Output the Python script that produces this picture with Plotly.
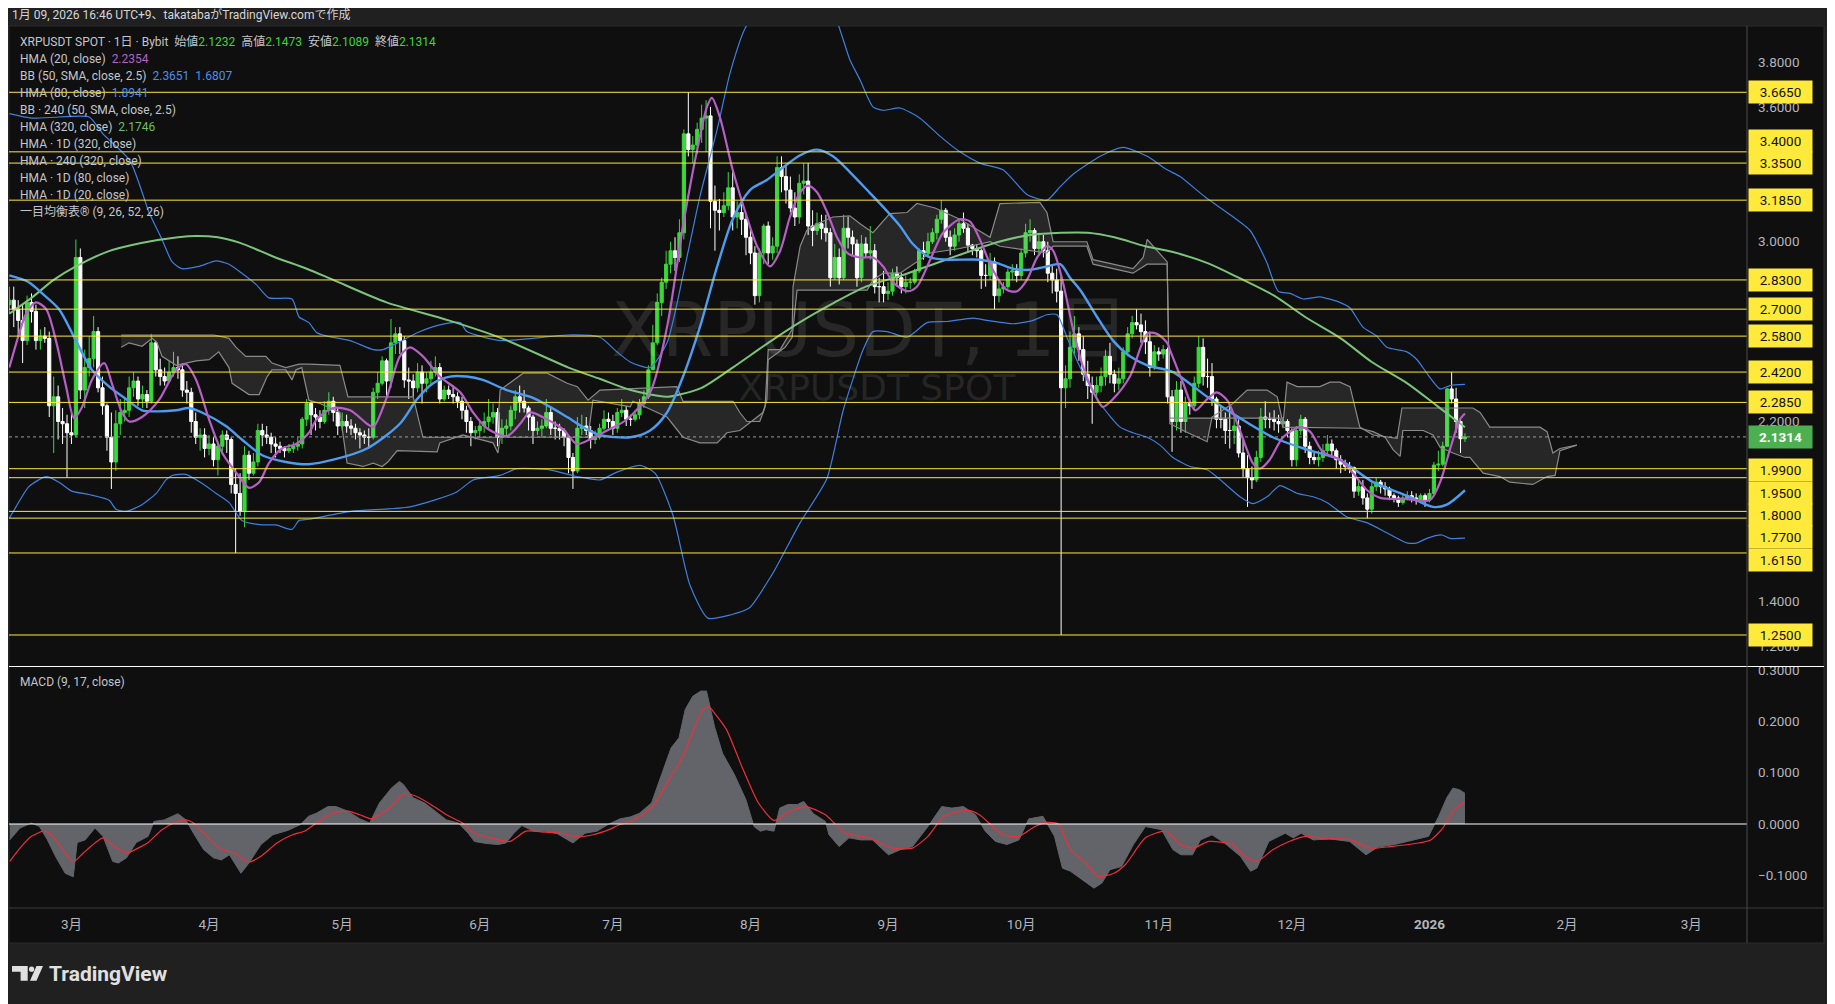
import pandas as pd
import plotly.graph_objects as go

# ---------------- DATA ----------------
START = pd.Timestamp("2025-02-15")
FIRST_OPEN = 2.72

CLOSE_FEB = [2.74, 2.70, 2.65, 2.56, 2.73, 2.69, 2.56, 2.58, 2.57, 2.27, 2.31, 2.20, 2.19, 2.15]
HIGH_FEB = [2.80, 2.80, 2.74, 2.72, 2.76, 2.77, 2.72, 2.61, 2.62, 2.60, 2.40, 2.36, 2.26, 2.23]
LOW_FEB = [2.68, 2.62, 2.58, 2.46, 2.54, 2.64, 2.52, 2.52, 2.55, 2.22, 2.06, 2.12, 2.10, 1.95]

CLOSE_MAR = [2.14, 2.93, 2.34, 2.44, 2.48, 2.60, 2.35, 2.27, 2.13, 2.02, 2.19, 2.24, 2.25, 2.35, 2.38, 2.30,
             2.32, 2.29, 2.55, 2.43, 2.40, 2.38, 2.42, 2.44, 2.43, 2.34, 2.33, 2.20, 2.13, 2.14, 2.08]
HIGH_MAR = [2.24, 3.01, 2.97, 2.52, 2.58, 2.67, 2.62, 2.40, 2.28, 2.24, 2.25, 2.30, 2.31, 2.40, 2.42, 2.40,
            2.36, 2.34, 2.59, 2.56, 2.48, 2.44, 2.47, 2.51, 2.49, 2.46, 2.38, 2.35, 2.24, 2.17, 2.17]
LOW_MAR = [2.10, 2.13, 2.30, 2.26, 2.40, 2.44, 2.33, 2.23, 2.07, 1.90, 1.98, 2.14, 2.20, 2.22, 2.31, 2.27,
           2.26, 2.26, 2.28, 2.40, 2.36, 2.36, 2.37, 2.40, 2.39, 2.31, 2.28, 2.15, 2.10, 2.07, 2.04]

CLOSE_APR = [2.10, 2.03, 2.09, 2.14, 2.12, 1.92, 1.88, 1.80, 2.05, 1.97, 2.02, 2.16, 2.14, 2.13, 2.10,
             2.09, 2.08, 2.07, 2.08, 2.09, 2.10, 2.21, 2.28, 2.23, 2.22, 2.20, 2.25, 2.29, 2.24, 2.18]
HIGH_APR = [2.14, 2.13, 2.11, 2.16, 2.16, 2.13, 1.99, 1.97, 2.09, 2.07, 2.06, 2.19, 2.19, 2.18, 2.15,
            2.13, 2.11, 2.09, 2.10, 2.11, 2.13, 2.22, 2.30, 2.29, 2.26, 2.25, 2.29, 2.33, 2.31, 2.26]
LOW_APR = [2.05, 2.00, 1.96, 2.05, 2.06, 1.88, 1.615, 1.78, 1.73, 1.94, 1.96, 2.00, 2.09, 2.10, 2.06,
           2.04, 2.06, 2.04, 2.06, 2.06, 2.07, 2.08, 2.18, 2.14, 2.16, 2.17, 2.19, 2.23, 2.20, 2.14]

CLOSE_MAY = [2.20, 2.18, 2.17, 2.15, 2.14, 2.13, 2.13, 2.33, 2.37, 2.47, 2.38, 2.55, 2.59, 2.56, 2.385, 2.38,
             2.35, 2.42, 2.37, 2.39, 2.42, 2.44, 2.30, 2.34, 2.32, 2.31, 2.29, 2.25, 2.20, 2.15, 2.16]
HIGH_MAY = [2.24, 2.23, 2.21, 2.19, 2.17, 2.16, 2.17, 2.35, 2.42, 2.49, 2.48, 2.656, 2.62, 2.62, 2.58, 2.44,
            2.41, 2.46, 2.45, 2.42, 2.47, 2.49, 2.46, 2.36, 2.36, 2.36, 2.33, 2.31, 2.27, 2.22, 2.18]
LOW_MAY = [2.16, 2.15, 2.14, 2.12, 2.08, 2.10, 2.08, 2.12, 2.30, 2.36, 2.31, 2.35, 2.50, 2.50, 2.35, 2.30,
           2.31, 2.33, 2.28, 2.33, 2.36, 2.40, 2.28, 2.29, 2.30, 2.28, 2.26, 2.21, 2.15, 2.09, 2.12]

CLOSE_JUN = [2.18, 2.20, 2.22, 2.24, 2.13, 2.17, 2.18, 2.25, 2.31, 2.29, 2.26, 2.22, 2.16, 2.17, 2.18,
             2.24, 2.17, 2.17, 2.16, 2.13, 2.04, 1.98, 2.17, 2.18, 2.16, 2.12, 2.13, 2.17, 2.21, 2.20]
HIGH_JUN = [2.20, 2.24, 2.30, 2.28, 2.26, 2.21, 2.21, 2.27, 2.34, 2.36, 2.34, 2.27, 2.23, 2.20, 2.21,
            2.30, 2.26, 2.20, 2.19, 2.17, 2.14, 2.06, 2.22, 2.23, 2.22, 2.18, 2.16, 2.19, 2.25, 2.24]
LOW_JUN = [2.13, 2.15, 2.17, 2.19, 2.09, 2.10, 2.14, 2.16, 2.21, 2.24, 2.24, 2.16, 2.10, 2.14, 2.13,
           2.17, 2.14, 2.12, 2.12, 2.09, 1.97, 1.90, 1.97, 2.14, 2.14, 2.08, 2.10, 2.12, 2.16, 2.17]

CLOSE_JUL = [2.17, 2.24, 2.25, 2.21, 2.21, 2.23, 2.28, 2.31, 2.43, 2.55, 2.73, 2.82, 2.90, 2.96, 2.93, 3.04,
             3.48, 3.41, 3.43, 3.50, 3.55, 3.56, 3.18, 3.14, 3.13, 3.16, 3.24, 3.11, 3.13, 3.10, 3.02]
HIGH_JUL = [2.23, 2.26, 2.30, 2.27, 2.23, 2.25, 2.30, 2.34, 2.45, 2.63, 2.77, 2.84, 2.96, 3.00, 3.02, 3.10,
            3.50, 3.665, 3.47, 3.53, 3.61, 3.63, 3.60, 3.25, 3.19, 3.22, 3.31, 3.32, 3.18, 3.17, 3.12]
LOW_JUL = [2.14, 2.15, 2.22, 2.18, 2.18, 2.20, 2.21, 2.26, 2.30, 2.43, 2.54, 2.67, 2.79, 2.86, 2.87, 2.91,
           3.01, 3.38, 3.35, 3.39, 3.44, 3.40, 3.06, 2.96, 3.05, 3.11, 3.14, 3.05, 3.06, 3.03, 2.94]

CLOSE_AUG = [2.95, 2.76, 2.95, 3.07, 2.95, 2.98, 3.33, 3.29, 3.23, 3.15, 3.11, 3.26, 3.27, 3.07, 3.05, 3.08,
             3.06, 3.04, 2.84, 2.93, 2.84, 3.06, 3.02, 2.99, 2.84, 2.99, 2.95, 2.96, 2.80, 2.80, 2.77]
HIGH_AUG = [3.07, 2.98, 2.97, 3.08, 3.09, 3.02, 3.38, 3.38, 3.34, 3.29, 3.22, 3.30, 3.35, 3.35, 3.14, 3.13,
            3.12, 3.12, 3.06, 2.99, 2.97, 3.12, 3.11, 3.05, 3.01, 3.03, 3.02, 3.07, 2.99, 2.84, 2.87]
LOW_AUG = [2.90, 2.72, 2.73, 2.90, 2.90, 2.92, 2.95, 3.22, 3.17, 3.13, 3.07, 3.08, 3.21, 3.03, 2.98, 3.03,
           3.01, 3.00, 2.80, 2.83, 2.81, 2.83, 2.97, 2.94, 2.80, 2.82, 2.93, 2.92, 2.77, 2.73, 2.73]

CLOSE_SEP = [2.78, 2.86, 2.84, 2.80, 2.82, 2.82, 2.87, 2.96, 2.95, 3.00, 3.04, 3.10, 3.14, 3.02, 2.98,
             3.03, 3.08, 3.06, 2.985, 2.97, 2.96, 2.85, 2.85, 2.91, 2.76, 2.79, 2.80, 2.865, 2.87, 2.85]
HIGH_SEP = [2.82, 2.88, 2.89, 2.86, 2.85, 2.84, 2.88, 2.97, 3.00, 3.04, 3.06, 3.12, 3.185, 3.15, 3.05,
            3.06, 3.10, 3.13, 3.08, 2.99, 2.99, 2.97, 2.90, 2.95, 2.93, 2.83, 2.82, 2.88, 2.90, 2.90]
LOW_SEP = [2.74, 2.76, 2.80, 2.77, 2.77, 2.79, 2.81, 2.86, 2.92, 2.93, 2.99, 3.01, 3.08, 3.00, 2.94,
           2.96, 3.00, 3.04, 2.95, 2.94, 2.93, 2.79, 2.80, 2.83, 2.70, 2.73, 2.77, 2.79, 2.83, 2.82]

CLOSE_OCT = [2.95, 3.04, 3.05, 2.97, 3.00, 2.96, 2.86, 2.83, 2.78, 2.35, 2.39, 2.53, 2.59, 2.52, 2.41, 2.36,
             2.33, 2.36, 2.40, 2.49, 2.41, 2.37, 2.39, 2.51, 2.59, 2.64, 2.63, 2.60, 2.555, 2.44, 2.51]
HIGH_OCT = [2.97, 3.08, 3.10, 3.06, 3.04, 3.03, 3.00, 2.90, 2.88, 2.85, 2.45, 2.60, 2.67, 2.62, 2.58, 2.47,
            2.40, 2.40, 2.44, 2.52, 2.55, 2.43, 2.44, 2.53, 2.62, 2.67, 2.70, 2.68, 2.65, 2.60, 2.54]
LOW_OCT = [2.83, 2.93, 3.00, 2.94, 2.94, 2.93, 2.82, 2.77, 2.73, 1.25, 2.26, 2.35, 2.50, 2.47, 2.38, 2.30,
           2.19, 2.30, 2.33, 2.36, 2.37, 2.33, 2.34, 2.37, 2.49, 2.57, 2.61, 2.55, 2.50, 2.40, 2.43]

CLOSE_NOV = [2.50, 2.52, 2.31, 2.20, 2.34, 2.20, 2.28, 2.27, 2.37, 2.53, 2.40, 2.40, 2.30, 2.21, 2.21,
             2.16, 2.16, 2.18, 2.06, 1.99, 1.95, 1.94, 2.04, 2.22, 2.21, 2.21, 2.20, 2.19, 2.20, 2.16]
HIGH_NOV = [2.53, 2.54, 2.53, 2.34, 2.38, 2.38, 2.31, 2.30, 2.40, 2.58, 2.57, 2.48, 2.46, 2.31, 2.27,
            2.24, 2.27, 2.22, 2.21, 2.12, 2.05, 2.00, 2.07, 2.26, 2.29, 2.24, 2.25, 2.23, 2.22, 2.21]
LOW_NOV = [2.47, 2.48, 2.28, 2.065, 2.16, 2.15, 2.15, 2.23, 2.25, 2.35, 2.36, 2.35, 2.27, 2.17, 2.17,
           2.10, 2.08, 2.10, 2.04, 1.95, 1.82, 1.90, 1.93, 2.02, 2.17, 2.17, 2.16, 2.15, 2.17, 2.13]

CLOSE_DEC = [2.03, 2.16, 2.21, 2.09, 2.04, 2.03, 2.04, 2.07, 2.10, 2.07, 2.03, 2.01, 2.00, 1.995, 1.89, 1.91,
             1.86, 1.81, 1.91, 1.93, 1.91, 1.90, 1.87, 1.86, 1.84, 1.86, 1.87, 1.86, 1.85, 1.87, 1.85]
HIGH_DEC = [2.17, 2.18, 2.23, 2.22, 2.11, 2.06, 2.07, 2.10, 2.14, 2.12, 2.08, 2.05, 2.03, 2.02, 2.00, 1.94,
            1.94, 1.88, 1.93, 1.95, 1.94, 1.93, 1.91, 1.88, 1.87, 1.88, 1.89, 1.89, 1.88, 1.88, 1.88]
LOW_DEC = [2.00, 2.00, 2.14, 2.06, 2.01, 2.01, 2.00, 2.02, 2.05, 2.04, 1.99, 1.97, 1.98, 1.97, 1.86, 1.87,
           1.83, 1.77, 1.79, 1.89, 1.88, 1.87, 1.85, 1.84, 1.82, 1.83, 1.85, 1.84, 1.83, 1.84, 1.82]

CLOSE_JAN = [1.88, 2.006, 2.01, 2.09, 2.345, 2.30, 2.20, 2.1232, 2.1314]
HIGH_JAN = [1.90, 2.02, 2.07, 2.11, 2.35, 2.42, 2.35, 2.21, 2.1473]
LOW_JAN = [1.84, 1.87, 1.98, 2.00, 2.09, 2.28, 2.15, 2.06, 2.1089]

# Indicators: day offset from START, value
HMA20_D = [0, 2.2, 3.8, 6, 8.3, 10.5, 12.8, 14.6, 16.4, 18.6, 21.4, 23.1, 25.4, 27, 29.9, 33.7, 37.6, 39.8, 42.1, 45,
           48, 51.8, 54, 56.3, 58.5, 61.4, 64.6, 67.5, 69.3, 73, 76.8, 80.6, 82, 85.1, 88, 90.3, 93.2, 97, 101.6,
           104.5, 107.6, 112.1, 115.1, 117.3, 121.1, 124.8, 127.9, 130.8, 134.7, 139.2, 144.4, 148.2, 151.8, 155,
           157.2, 158.3, 160.1, 163, 166.2, 168.5, 171.4, 173.7, 175.9, 178.2, 180, 182, 184.3, 186.5, 188.8,
           191.7, 194.6, 196.9, 199.1, 202.3, 204.5, 207.5, 210.4, 214.2, 216.5, 218.7, 221.6, 224.8, 227.1,
           229.3, 231.6, 233.8, 235.2, 237.4, 239.7, 242, 245.1, 246.4, 248.7, 252.5, 256.4, 258.6, 260.9,
           261.5, 264.5, 267.2, 269.9, 272.1, 274.4, 277.3, 280.2, 281.8, 284, 287, 290.8, 293.1, 296, 299.8,
           302.8, 305.9, 308.9, 314.9, 320.1, 322.4, 324.6, 326.9, 328]
HMA20_V = [2.44, 2.59, 2.68, 2.73, 2.70, 2.56, 2.355, 2.215, 2.265, 2.385, 2.46, 2.37, 2.24, 2.20, 2.22, 2.295,
           2.43, 2.455, 2.385, 2.21, 2.06, 1.955, 1.905, 1.93, 2.015, 2.08, 2.10, 2.15, 2.21, 2.26, 2.25, 2.19,
           2.175, 2.31, 2.49, 2.53, 2.49, 2.40, 2.33, 2.24, 2.17, 2.135, 2.19, 2.24, 2.21, 2.165, 2.10, 2.12,
           2.16, 2.21, 2.33, 2.62, 3.07, 3.41, 3.60, 3.64, 3.555, 3.32, 3.11, 2.98, 2.89, 2.96, 3.11, 3.22, 3.25,
           3.22, 3.13, 3.02, 2.95, 2.93, 2.93, 2.89, 2.82, 2.78, 2.80, 2.92, 3.04, 3.10, 3.09, 3.01, 2.875,
           2.785, 2.78, 2.83, 2.93, 2.98, 2.96, 2.82, 2.61, 2.44, 2.30, 2.265, 2.30, 2.40, 2.59, 2.59, 2.55,
           2.52, 2.37, 2.25, 2.30, 2.33, 2.295, 2.16, 2.015, 1.99, 2.03, 2.13, 2.175, 2.155, 2.065, 2.03, 1.97,
           1.895, 1.86, 1.855, 1.85, 1.93, 2.075, 2.21, 2.2354]

HMA80_D = [0, 4.4, 7.4, 11.2, 15, 18.6, 22.5, 26.3, 29.9, 33.7, 37.6, 40.5, 43.4, 48.8, 52.4, 57, 62.3, 67.5,
           73, 80.6, 88, 91.9, 95.5, 99.3, 103.1, 106.7, 112.1, 118, 125.7, 129.3, 133.1, 139.9, 144.4, 148.2,
           151.8, 155.6, 159.5, 163, 166.9, 170.7, 174.3, 178.2, 182, 185.6, 189.4, 193.3, 196.9, 200.7, 203.6,
           207.5, 211.3, 218.7, 222.6, 226.2, 230, 233.8, 236.8, 239, 241.3, 245.1, 248.7, 252.5, 256.4, 262.2,
           269.9, 277.3, 284.7, 292.4, 299.8, 307.3, 314.9, 320.8, 323.9, 328]
HMA80_V = [2.85, 2.82, 2.77, 2.70, 2.56, 2.43, 2.355, 2.30, 2.25, 2.245, 2.25, 2.26, 2.24, 2.18, 2.12, 2.05,
           2.02, 2.01, 2.03, 2.08, 2.19, 2.30, 2.37, 2.40, 2.40, 2.385, 2.34, 2.305, 2.22, 2.175, 2.14, 2.13,
           2.16, 2.24, 2.40, 2.62, 2.89, 3.10, 3.23, 3.275, 3.33, 3.385, 3.41, 3.38, 3.31, 3.23, 3.155, 3.07,
           2.99, 2.93, 2.92, 2.92, 2.905, 2.88, 2.875, 2.89, 2.90, 2.84, 2.785, 2.665, 2.56, 2.49, 2.45, 2.42,
           2.31, 2.215, 2.13, 2.075, 2.03, 1.93, 1.87, 1.82, 1.83, 1.8941]

HMA320_D = [0, 5, 10, 15, 22, 30, 38, 42, 47, 52, 60, 67, 73, 85, 99, 111, 126, 133, 140, 148, 151, 156, 163,
            171, 178, 186, 193, 201, 211, 223, 230, 237, 243, 249, 256, 262, 270, 277, 285, 292, 300, 307,
            315, 322, 328]
HMA320_V = [2.68, 2.75, 2.83, 2.89, 2.955, 2.995, 3.02, 3.026, 3.02, 2.995, 2.93, 2.88, 2.83, 2.73, 2.65, 2.57,
            2.44, 2.39, 2.34, 2.31, 2.32, 2.35, 2.44, 2.55, 2.64, 2.73, 2.80, 2.85, 2.92, 3.00, 3.03, 3.04,
            3.04, 3.02, 2.98, 2.955, 2.905, 2.84, 2.76, 2.665, 2.57, 2.465, 2.37, 2.265, 2.1746]

BBU_D = [0, 5.1, 11.2, 18, 21.1, 27.2, 31.5, 34.4, 36.7, 38.9, 42.7, 46.6, 49.5, 52.4, 55.6, 58.5, 63.7, 65.3,
         67.5, 69.3, 71.6, 76.8, 82, 84.2, 88, 91.9, 97, 101.6, 103.1, 110.6, 118, 125.7, 133.1, 136.9, 139.9,
         144.4, 148.2, 151.8, 155.6, 159.5, 162.4, 165.8, 171.4, 178.2, 185, 189.4, 191.7, 194.6, 196.9,
         200.7, 205.2, 209.7, 214.2, 218.7, 223.9, 226.2, 229.3, 233.8, 236.8, 239.7, 245.8, 251, 256.4,
         260.9, 263.8, 269.4, 275.1, 279.6, 281.2, 283.4, 285.9, 288.6, 291.6, 295.3, 299.8, 302.1, 305,
         308.1, 310.4, 314.9, 317.2, 319.4, 322.4, 324.6, 328]
BBU_V = [3.57, 3.55, 3.555, 3.555, 3.48, 3.36, 3.13, 3.01, 2.91, 2.88, 2.89, 2.915, 2.90, 2.86, 2.81, 2.75,
         2.745, 2.665, 2.64, 2.595, 2.58, 2.56, 2.52, 2.52, 2.555, 2.595, 2.63, 2.64, 2.60, 2.56, 2.57, 2.585,
         2.575, 2.51, 2.465, 2.44, 2.55, 2.85, 3.20, 3.50, 3.75, 3.95, 4.10, 4.15, 4.05, 3.81, 3.72, 3.60,
         3.585, 3.595, 3.55, 3.47, 3.40, 3.35, 3.32, 3.275, 3.21, 3.185, 3.245, 3.30, 3.38, 3.42, 3.38, 3.32,
         3.29, 3.20, 3.12, 3.05, 2.995, 2.905, 2.78, 2.77, 2.745, 2.755, 2.73, 2.705, 2.62, 2.58, 2.53, 2.51,
         2.475, 2.415, 2.345, 2.36, 2.3651]

BBL_D = [0, 1.5, 4.4, 8.3, 11.2, 14.1, 18, 22.5, 24, 26.3, 29.9, 33.1, 35.3, 36.7, 39.8, 43.4, 46.6, 49.5,
         52.4, 57, 60.1, 63.7, 65.3, 67.5, 77, 90.3, 100.7, 104.5, 110.6, 114.4, 121.8, 127.9, 133.1, 136.9,
         142.1, 145.5, 149.5, 153.4, 157.4, 162.6, 166.7, 171.9, 178.2, 184.2, 187.9, 192.4, 194.6, 197.8,
         202.3, 206.8, 211.3, 217.2, 220.3, 226.2, 230.7, 233.8, 236.1, 238.3, 241.3, 245.8, 250.3, 253.2,
         256.4, 259.3, 262.2, 266, 269.9, 273.5, 277.3, 280.2, 283.4, 286.3, 290.2, 293.8, 296.9, 301.4,
         305.9, 310.4, 314.9, 317.2, 319.4, 322.8, 324.6, 328]
BBL_V = [1.77, 1.82, 1.91, 1.955, 1.93, 1.89, 1.875, 1.85, 1.81, 1.80, 1.83, 1.88, 1.94, 1.96, 1.965, 1.925,
         1.88, 1.84, 1.76, 1.74, 1.74, 1.72, 1.76, 1.765, 1.80, 1.82, 1.885, 1.94, 1.96, 1.99, 1.985, 1.955,
         1.94, 1.975, 2.005, 1.97, 1.785, 1.47, 1.325, 1.34, 1.37, 1.52, 1.75, 1.945, 2.25, 2.52, 2.60, 2.60,
         2.575, 2.64, 2.645, 2.66, 2.65, 2.635, 2.65, 2.675, 2.675, 2.575, 2.44, 2.28, 2.175, 2.15, 2.13,
         2.095, 2.04, 2.00, 1.985, 1.93, 1.865, 1.835, 1.865, 1.915, 1.88, 1.865, 1.84, 1.775, 1.75, 1.705,
         1.66, 1.66, 1.68, 1.695, 1.68, 1.6807]

CLOUD_A_D = [25.2, 46.1, 49.5, 51.1, 53.3, 57.8, 59.2, 62.3, 65.3, 67.5, 74.5, 76.3, 91.0, 93.2, 109.9, 110.6,
             115.8, 121.2, 125.7, 128.0, 130.4, 133.1, 150.4, 151.8, 163.1, 164.6, 166.2, 169.1, 170.3, 171.0,
             173.7, 176.4, 176.6, 178.2, 179.7, 182.0, 185.6, 189.4, 191.7, 194.6, 198.4, 202.3, 204.5, 208.6,
             214.2, 221.0, 223.2, 232.2, 233.8, 235.2, 242.8, 244.2, 253.2, 255.5, 256.4, 260.0, 260.9, 261.5,
             286.3, 287.0, 304.3, 307.3, 310.0, 311.8, 313.4, 314.0, 318.6, 320.8, 322.4, 325.3, 328.0, 329.1,
             332.1, 335.9, 338.1, 343.3, 346.5, 348.3, 349.4, 353.2]
CLOUD_A_V = [2.585, 2.585, 2.57, 2.53, 2.49, 2.49, 2.46, 2.44, 2.455, 2.455, 2.45, 2.31, 2.31, 2.13, 2.13, 2.34,
             2.415, 2.415, 2.37, 2.355, 2.295, 2.34, 2.355, 2.29, 2.29, 2.24, 2.20, 2.20, 2.265, 2.52, 2.52, 2.61,
             2.80, 2.98, 3.05, 3.08, 3.11, 3.115, 3.08, 3.04, 3.125, 3.13, 3.17, 3.15, 3.10, 3.02, 3.17, 3.175,
             3.13, 3.00, 3.00, 2.92, 2.88, 2.93, 3.01, 2.93, 2.91, 2.215, 2.215, 2.175, 2.17, 2.155, 2.13,
             2.075, 2.045, 2.16, 2.16, 2.14, 2.085, 2.06, 2.04, 2.04, 1.97, 1.955, 1.93, 1.92, 1.955, 1.96,
             2.07, 2.095]
CLOUD_B_D = [25.2, 27.0, 29.9, 32.2, 33.3, 34.4, 37.6, 42.1, 45.0, 47.2, 49.5, 50.2, 54.0, 56.3, 58.1, 59.2,
             62.3, 63.7, 64.6, 65.9, 67.5, 70.0, 74.5, 76.1, 79.7, 82.0, 84.0, 85.3, 87.4, 96.4, 97.0, 102.2,
             109.0, 110.1, 110.6, 130.4, 131.5, 139.9, 140.5, 148.2, 151.8, 155.6, 159.5, 161.7, 164.6, 169.8,
             170.7, 171.0, 174.8, 176.4, 177.5, 193.3, 194.6, 196.9, 200.7, 207.5, 214.2, 221.0, 223.2, 233.8,
             235.2, 242.8, 244.2, 253.2, 256.4, 260.9, 261.5, 264.5, 269.9, 271.0, 275.7, 278.9, 283.4, 285.7,
             287.0, 287.9, 290.2, 295.3, 297.6, 299.8, 302.1, 304.3, 307.3, 310.4, 312.7, 313.8, 329.8, 331.4,
             333.6, 344.9, 346.5, 347.8, 349.4, 353.2]
CLOUD_B_V = [2.53, 2.55, 2.535, 2.57, 2.55, 2.49, 2.45, 2.47, 2.475, 2.51, 2.44, 2.37, 2.32, 2.32, 2.40, 2.43,
             2.43, 2.385, 2.43, 2.44, 2.295, 2.28, 2.24, 2.015, 2.00, 2.015, 2.00, 2.02, 2.07, 2.065, 2.105, 2.14,
             2.105, 2.06, 2.13, 2.13, 2.295, 2.265, 2.29, 2.22, 2.13, 2.105, 2.105, 2.15, 2.16, 2.24, 2.295,
             2.475, 2.53, 2.575, 2.785, 2.785, 2.83, 2.86, 2.86, 2.95, 2.97, 3.00, 2.98, 2.95, 2.98, 2.98, 2.90,
             2.86, 2.90, 2.90, 2.19, 2.16, 2.11, 2.22, 2.28, 2.34, 2.34, 2.31, 2.19, 2.375, 2.355, 2.355, 2.375,
             2.375, 2.355, 2.175, 2.14, 2.13, 2.125, 2.26, 2.26, 2.24, 2.175, 2.175, 2.155, 2.06, 2.08, 2.095]

MACD_D = [0.1, 2.4, 5, 6.8, 8.6, 10.4, 12.6, 14.4, 15.3, 17.1, 19.3, 21.1, 23.3, 24.6, 26.4, 28.6, 31.3, 32.6,
          34.9, 38, 39.8, 41.5, 43.8, 46, 47.8, 49.6, 52.2, 54, 56.7, 59.4, 62.9, 65.6, 67.4, 69.2, 71.8, 73.6,
          76.3, 79, 81.2, 83.4, 86.1, 87.9, 88.8, 91, 93.6, 95.9, 98.5, 101.2, 103.4, 104.8, 107.5, 110.1, 111.9,
          113.7, 115.5, 118.1, 120.8, 123.5, 127, 129.7, 132.4, 135.1, 137.6, 140, 142, 144.7, 146.5, 149.1,
          150.9, 152.3, 154, 155.8, 157.1, 158.9, 160.7, 163.4, 166, 167.8, 169.2, 170.5, 172.3, 173.6, 175.4,
          177.6, 179, 181.2, 183.9, 184.7, 187, 189.2, 191.9, 194.5, 198.1, 200.8, 203.5, 207, 210.1, 212.4,
          215, 217.7, 219.9, 222.2, 224.8, 227.5, 229.7, 232.9, 235.5, 237.3, 239.1, 241.8, 244.4, 246.2, 248,
          250.6, 253.3, 256, 259.6, 262.2, 264, 266.6, 268.4, 271, 273.8, 277.4, 279.7, 281.1, 283.8, 287.5,
          289.3, 291.1, 293.8, 297.5, 302, 305.7, 308.4, 312.1, 316.6, 319.8, 322.1, 323.9, 325.3, 326.7, 328]
MACD_V = [-0.031, -0.008, 0.002, -0.005, -0.031, -0.063, -0.096, -0.103, -0.036, -0.031, -0.008, -0.024, -0.073,
          -0.076, -0.066, -0.036, -0.024, 0.005, 0.008, 0.020, 0.008, -0.018, -0.050, -0.066, -0.070, -0.060,
          -0.096, -0.076, -0.040, -0.021, -0.012, -0.001, 0.015, 0.021, 0.034, 0.034, 0.025, 0.010, 0.002,
          0.041, 0.070, 0.083, 0.077, 0.051, 0.041, 0.025, 0.008, 0.002, -0.018, -0.034, -0.038, -0.040,
          -0.037, -0.018, -0.003, -0.014, -0.014, -0.019, -0.037, -0.018, -0.014, 0.0, 0.010, 0.014, 0.021,
          0.041, 0.086, 0.148, 0.168, 0.223, 0.249, 0.259, 0.259, 0.19, 0.138, 0.096, 0.047, -0.005, -0.014,
          -0.011, -0.014, 0.031, 0.038, 0.038, 0.044, 0.020, 0.005, -0.021, -0.044, -0.027, -0.031, -0.031,
          -0.060, -0.050, -0.044, -0.005, 0.034, 0.031, 0.034, 0.018, -0.014, -0.034, -0.040, -0.031, 0.010,
          0.015, -0.024, -0.086, -0.092, -0.109, -0.125, -0.115, -0.089, -0.083, -0.040, -0.005, -0.011,
          -0.050, -0.060, -0.060, -0.031, -0.021, -0.037, -0.063, -0.092, -0.086, -0.034, -0.018, -0.027,
          -0.018, -0.031, -0.029, -0.034, -0.060, -0.045, -0.040, -0.031, -0.024, 0.015, 0.051, 0.070, 0.067,
          0.060]

SIGNAL_D = [0.1, 2.4, 5, 7.7, 9.5, 12.1, 14.4, 16.6, 19.3, 21.1, 23.7, 26.4, 29, 31.3, 34.4, 37.1, 39.8, 41.5,
            44.2, 47.8, 50.4, 54, 56.7, 60.3, 63.8, 66.5, 69.2, 72.7, 76.3, 79, 81.6, 83.4, 86.1, 88.8, 91.4,
            95, 98.5, 102.1, 104.8, 108.3, 112.8, 116.4, 120.8, 124.3, 127.9, 131.5, 135.1, 137.6, 140, 144.7,
            149.1, 151.8, 154.5, 156.2, 157.6, 158.9, 161.6, 165.2, 168.8, 172.3, 175.9, 179.5, 183.9, 188.4,
            193.7, 199, 203.5, 207, 210.6, 215.9, 218.6, 223.9, 227.5, 231.1, 233.7, 236.4, 239.1, 242.6,
            245.3, 248.9, 251.5, 256, 260.5, 264, 266.7, 270.3, 275.6, 278.3, 281.1, 284.7, 288.4, 292, 296.6,
            302, 306.6, 311.2, 317.5, 320.3, 323, 325.3, 327.9]
SIGNAL_V = [-0.073, -0.047, -0.024, -0.014, -0.021, -0.050, -0.074, -0.057, -0.037, -0.027, -0.044, -0.057,
            -0.047, -0.036, -0.011, 0.002, 0.008, 0.002, -0.021, -0.050, -0.055, -0.074, -0.063, -0.037, -0.021,
            -0.014, 0.002, 0.021, 0.025, 0.018, 0.010, 0.018, 0.034, 0.059, 0.055, 0.038, 0.018, 0.002, -0.018,
            -0.027, -0.034, -0.014, -0.016, -0.018, -0.025, -0.021, -0.011, -0.001, 0.005, 0.031, 0.093, 0.132,
            0.19, 0.223, 0.229, 0.216, 0.184, 0.109, 0.041, 0.007, 0.025, 0.034, 0.018, -0.018, -0.027, -0.047,
            -0.047, -0.024, 0.015, 0.027, 0.018, -0.021, -0.024, -0.005, 0.003, 0.0, -0.050, -0.076, -0.102,
            -0.096, -0.079, -0.027, -0.014, -0.040, -0.047, -0.034, -0.040, -0.063, -0.073, -0.050, -0.034,
            -0.024, -0.029, -0.030, -0.047, -0.044, -0.037, -0.031, -0.008, 0.025, 0.044]

LEVELS = [3.665, 3.40, 3.35, 3.185, 2.83, 2.70, 2.58, 2.42, 2.285, 1.99, 1.95, 1.80, 1.77, 1.615, 1.25]
PRICE_TICKS = [1.2, 1.4, 2.2, 3.0, 3.6, 3.8]
MACD_TICKS = [-0.1, 0.0, 0.1, 0.2, 0.3]
MONTH_TICKS = ["2025-03-01", "2025-04-01", "2025-05-01", "2025-06-01", "2025-07-01", "2025-08-01",
               "2025-09-01", "2025-10-01", "2025-11-01", "2025-12-01", "2026-01-01", "2026-02-01", "2026-03-01"]
MONTH_LABELS = ["3月", "4月", "5月", "6月", "7月", "8月", "9月", "10月", "11月", "12月", "<b>2026</b>", "2月", "3月"]

# ---------------- STYLE / LAYOUT ----------------
# the page body adds an 8px margin; the figure is shrunk and everything placed in reference pixels
OFF = 8
W, H = 1835 - OFF, 1004 - OFF
PL, PR, PT, PB = 9, 1747, 26, 908          # plot area in reference pixels
PANE_SPLIT = 666.5
FONT = "Roboto, 'Noto Sans CJK JP', sans-serif"
WM_FONT = "'DejaVu Sans', 'Noto Sans CJK JP', sans-serif"
TXT = "#b2b5be"
UP = "#3ad83a"
YEL = "#ffe93b"
LABEL_SHIFT = {3.40: 11, 1.99: -1, 1.95: -15, 1.80: -4, 1.77: -19, 1.615: -7}


def px2x(px):
    return (px - PL) / (PR - PL)


def px2y(py):
    return (PB - py) / (PB - PT)


def d2t(ds):
    return [START + pd.Timedelta(days=float(d)) for d in ds]


closes = (CLOSE_FEB + CLOSE_MAR + CLOSE_APR + CLOSE_MAY + CLOSE_JUN + CLOSE_JUL + CLOSE_AUG +
          CLOSE_SEP + CLOSE_OCT + CLOSE_NOV + CLOSE_DEC + CLOSE_JAN)
highs = (HIGH_FEB + HIGH_MAR + HIGH_APR + HIGH_MAY + HIGH_JUN + HIGH_JUL + HIGH_AUG +
         HIGH_SEP + HIGH_OCT + HIGH_NOV + HIGH_DEC + HIGH_JAN)
lows = (LOW_FEB + LOW_MAR + LOW_APR + LOW_MAY + LOW_JUN + LOW_JUL + LOW_AUG +
        LOW_SEP + LOW_OCT + LOW_NOV + LOW_DEC + LOW_JAN)
opens = [FIRST_OPEN] + closes[:-1]
highs = [max(h, o, c) for h, o, c in zip(highs, opens, closes)]
lows = [min(l, o, c) for l, o, c in zip(lows, opens, closes)]
dates = pd.date_range(START, periods=len(closes), freq="D")

fig = go.Figure()

# watermark (behind)
fig.add_trace(go.Scatter(x=d2t([194.0]), y=[2.575], mode="text", text=["XRPUSDT, 1日"],
                         textfont=dict(size=74, color="rgba(255,255,255,0.10)", family=WM_FONT),
                         hoverinfo="skip", xaxis="x", yaxis="y"))
fig.add_trace(go.Scatter(x=d2t([195.5]), y=[2.335], mode="text", text=["XRPUSDT SPOT"],
                         textfont=dict(size=36, color="rgba(255,255,255,0.10)", family=WM_FONT),
                         hoverinfo="skip", xaxis="x", yaxis="y"))

# ichimoku cloud
fig.add_trace(go.Scatter(x=d2t(CLOUD_A_D + CLOUD_B_D[::-1]), y=CLOUD_A_V + CLOUD_B_V[::-1],
                         fill="toself", fillcolor="rgba(255,255,255,0.10)", line=dict(width=0),
                         mode="lines", hoverinfo="skip"))
fig.add_trace(go.Scatter(x=d2t(CLOUD_A_D), y=CLOUD_A_V, mode="lines",
                         line=dict(color="#8a8a8a", width=1.2), hoverinfo="skip"))
fig.add_trace(go.Scatter(x=d2t(CLOUD_B_D), y=CLOUD_B_V, mode="lines",
                         line=dict(color="#8a8a8a", width=1.2), hoverinfo="skip"))

# candles
fig.add_trace(go.Candlestick(x=dates, open=opens, high=highs, low=lows, close=closes,
                             increasing=dict(line=dict(color=UP, width=1), fillcolor=UP),
                             decreasing=dict(line=dict(color="#ffffff", width=1), fillcolor="#ffffff"),
                             whiskerwidth=0, hoverinfo="skip"))

# bollinger bands
fig.add_trace(go.Scatter(x=d2t(BBU_D), y=BBU_V, mode="lines", line=dict(color="#3f7fe0", width=1.2,
                                                                        shape="spline", smoothing=0.6)))
fig.add_trace(go.Scatter(x=d2t(BBL_D), y=BBL_V, mode="lines", line=dict(color="#3f7fe0", width=1.2,
                                                                        shape="spline", smoothing=0.6)))
# HMAs
fig.add_trace(go.Scatter(x=d2t(HMA320_D), y=HMA320_V, mode="lines",
                         line=dict(color="#7cc47c", width=2, shape="spline", smoothing=0.8)))
fig.add_trace(go.Scatter(x=d2t(HMA80_D), y=HMA80_V, mode="lines",
                         line=dict(color="#4d9cf0", width=2.4, shape="spline", smoothing=0.8)))
fig.add_trace(go.Scatter(x=d2t(HMA20_D), y=HMA20_V, mode="lines",
                         line=dict(color="#b660c6", width=2.2, shape="spline", smoothing=0.8)))

# MACD pane
fig.add_trace(go.Scatter(x=d2t(MACD_D), y=MACD_V, mode="lines", fill="tozeroy",
                         fillcolor="#636469", line=dict(color="#636469", width=1),
                         xaxis="x2", yaxis="y2", hoverinfo="skip"))
fig.add_trace(go.Scatter(x=d2t(SIGNAL_D), y=SIGNAL_V, mode="lines",
                         line=dict(color="#ee2f3c", width=1.2, shape="spline", smoothing=0.6),
                         xaxis="x2", yaxis="y2", hoverinfo="skip"))

x0 = START - pd.Timedelta(days=0.07)
x1 = START + pd.Timedelta(days=391.55)
split_frac = px2y(PANE_SPLIT)

shapes = [
    dict(type="rect", xref="paper", yref="paper", x0=px2x(9), x1=px2x(1824), y0=px2y(943), y1=px2y(26),
         fillcolor="#0f0f0f", line=dict(width=1, color="#2a2a2a"), layer="below"),
]
for lv in LEVELS:
    shapes.append(dict(type="line", xref="paper", yref="y", x0=0, x1=1, y0=lv, y1=lv,
                       line=dict(color=YEL, width=1)))
shapes += [
    dict(type="line", xref="paper", yref="y", x0=0, x1=1, y0=closes[-1], y1=closes[-1],
         line=dict(color="#9a9ca3", width=1, dash="dot")),
    dict(type="line", xref="paper", yref="y2", x0=0, x1=1, y0=0, y1=0, line=dict(color="#ffffff", width=1.2)),
    dict(type="line", xref="paper", yref="paper", x0=px2x(9), x1=px2x(1824), y0=split_frac, y1=split_frac,
         line=dict(color="#ffffff", width=1.2)),
    dict(type="line", xref="paper", yref="paper", x0=px2x(9), x1=px2x(1824), y0=0, y1=0,
         line=dict(color="#3d3d3d", width=1)),
    dict(type="line", xref="paper", yref="paper", x0=1, x1=1, y0=px2y(943), y1=px2y(26),
         line=dict(color="#4a4a4a", width=1)),
]


def path_px(pts):
    return "M " + " L ".join(f"{px2x(a):.5f},{px2y(b):.5f}" for a, b in pts) + " Z"


LOGO = "#e0e0e0"
shapes += [
    dict(type="path", xref="paper", yref="paper", fillcolor=LOGO, line=dict(width=0),
         path=path_px([(12, 966), (27.7, 966), (27.7, 980.7), (20.6, 980.7), (20.6, 971.7), (12, 971.7)])),
    dict(type="circle", xref="paper", yref="paper", fillcolor=LOGO, line=dict(width=0),
         x0=px2x(29.0), x1=px2x(34.2), y0=px2y(971.8), y1=px2y(966.6)),
    dict(type="path", xref="paper", yref="paper", fillcolor=LOGO, line=dict(width=0),
         path=path_px([(36.5, 966), (43, 966), (36.5, 980.7), (30, 980.7)])),
]

annotations = []


def ann_px(text, px, py, size, color, anchor="left", **kw):
    annotations.append(dict(text=text, xref="paper", yref="paper", x=px2x(px), y=px2y(py),
                            xanchor=anchor, yanchor="middle", showarrow=False,
                            font=dict(size=size, color=color, family=FONT), **kw))


ann_px("1月 09, 2026 16:46 UTC+9、takatabaがTradingView.comで作成", 10, 14.5, 12, "#d6d6d6")

LEG = "#c3c6cd"


def sp(v, c):
    return f"<span style='color:{c}'>{v}</span>"


NB = "\u00a0"
legend_lines = [
    f"XRPUSDT SPOT · 1日 · Bybit{NB}{NB}始値{sp(f'{opens[-1]:.4f}', UP)}{NB}{NB}高値{sp(f'{highs[-1]:.4f}', UP)}"
    f"{NB}{NB}安値{sp(f'{lows[-1]:.4f}', UP)}{NB}{NB}終値{sp(f'{closes[-1]:.4f}', UP)}",
    f"HMA (20, close){NB}{NB}{sp(f'{HMA20_V[-1]:.4f}', '#b660c6')}",
    f"BB (50, SMA, close, 2.5){NB}{NB}{sp(f'{BBU_V[-1]:.4f}', '#4d8ef0')}{NB}{NB}{sp(f'{BBL_V[-1]:.4f}', '#4d8ef0')}",
    f"HMA (80, close){NB}{NB}{sp(f'{HMA80_V[-1]:.4f}', '#4d8ef0')}",
    "BB · 240 (50, SMA, close, 2.5)",
    f"HMA (320, close){NB}{NB}{sp(f'{HMA320_V[-1]:.4f}', '#6dbd6d')}",
    "HMA · 1D (320, close)",
    "HMA · 240 (320, close)",
    "HMA · 1D (80, close)",
    "HMA · 1D (20, close)",
    "一目均衡表® (9, 26, 52, 26)",
]
for i, t in enumerate(legend_lines):
    ann_px(t, 18, 41.7 + i * 17.0, 12, LEG)

ann_px("MACD (9, 17, close)", 18, 682, 12, LEG)
ann_px("<b>TradingView</b>", 47, 973.5, 21, LOGO)

# right-axis price labels
for lv in LEVELS:
    annotations.append(dict(text=f"{lv:.4f}", xref="paper", yref="y", x=px2x(1748), y=lv,
                            xanchor="left", yanchor="middle", showarrow=False,
                            yshift=LABEL_SHIFT.get(lv, 0), bgcolor=YEL, width=61, height=20, borderpad=1,
                            font=dict(size=13.5, color="#111111", family=FONT)))
annotations.append(dict(text=f"<b>{closes[-1]:.4f}</b>", xref="paper", yref="y", x=px2x(1748), y=closes[-1],
                        xanchor="left", yanchor="middle", showarrow=False, bgcolor="#4caf50",
                        width=61, height=20, borderpad=1, font=dict(size=13.5, color="#ffffff", family=FONT)))

fig.update_layout(
    width=W, height=H,
    margin=dict(l=PL - OFF, r=1835 - PR, t=PT - OFF, b=1004 - PB),
    paper_bgcolor="#202020", plot_bgcolor="#0f0f0f",
    showlegend=False, hovermode=False,
    boxgap=0.12, boxgroupgap=0.2,
    font=dict(family=FONT, color=TXT),
    xaxis=dict(domain=[0, 1], anchor="y", range=[x0, x1], showticklabels=False, showgrid=False,
               zeroline=False, rangeslider=dict(visible=False), showline=False, ticks=""),
    xaxis2=dict(domain=[0, 1], anchor="y2", matches="x", range=[x0, x1], showgrid=False, zeroline=False,
                tickvals=MONTH_TICKS, ticktext=MONTH_LABELS, ticks="", ticklabelstandoff=6,
                tickfont=dict(size=13.5, color=TXT, family=FONT), showline=False),
    yaxis=dict(domain=[px2y(666), 1], anchor="x", side="right", range=[1.112, 3.960], tickvals=PRICE_TICKS,
               tickformat=".4f", showgrid=False, zeroline=False, ticks="", ticklabelstandoff=10,
               tickfont=dict(size=13.5, color=TXT, family=FONT), showline=False),
    yaxis2=dict(domain=[0, px2y(667)], anchor="x2", side="right", range=[-0.1637, 0.306], tickvals=MACD_TICKS,
                tickformat=".4f", showgrid=False, zeroline=False, ticks="", ticklabelstandoff=10,
                tickfont=dict(size=13.5, color=TXT, family=FONT), showline=False),
    shapes=shapes,
    annotations=annotations,
)

fig.write_html("out.html")
